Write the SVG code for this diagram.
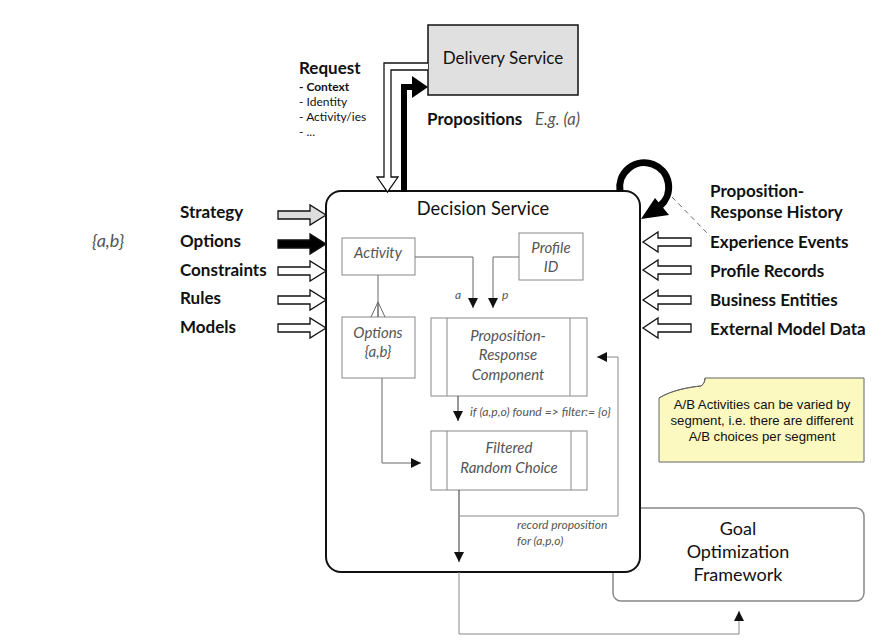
<svg xmlns="http://www.w3.org/2000/svg" width="883" height="641" viewBox="0 0 883 641">
<style>
.lbl{font-family:Lato,"Liberation Sans",sans-serif;font-weight:bold;font-size:17px;fill:#111}
.it{font-family:Lato,"Liberation Sans",sans-serif;font-style:italic;fill:#555}
.ib{fill:#fff;stroke:#888;stroke-width:1}
.cn{fill:none;stroke:#888;stroke-width:1}
.blk{stroke:#111;stroke-width:1.3}
.reg{font-family:Lato,"Liberation Sans",sans-serif;fill:#111}
.nt{font-family:"Liberation Sans",Arial,sans-serif;font-size:13.2px;fill:#111}
</style>
<defs>
<marker id="ah" markerWidth="10" markerHeight="10" refX="10" refY="5" orient="auto" markerUnits="userSpaceOnUse"><path d="M0,0 L10,5 L0,10 Z" fill="#111"/></marker>
</defs>

<g id="goal">
<rect x="613" y="508" width="251" height="93" rx="8" fill="#fff" stroke="#888" stroke-width="1.5"/>
<text class="reg" font-size="18" text-anchor="middle" x="738" y="535">Goal</text>
<text class="reg" font-size="18" text-anchor="middle" x="738" y="558">Optimization</text>
<text class="reg" font-size="18" text-anchor="middle" x="738" y="581">Framework</text>
</g>

<g id="decision-service">
<rect x="326" y="191" width="314" height="381" rx="15" fill="#fff" stroke="#111" stroke-width="2"/>
<text class="reg" font-size="18.3" text-anchor="middle" x="483" y="215">Decision Service</text>
</g>

<g id="delivery-service">
<rect x="428" y="25" width="150" height="70" fill="#e0e0e0" stroke="#111" stroke-width="1.5"/>
<text class="reg" font-size="17" text-anchor="middle" x="503" y="64">Delivery Service</text>
</g>

<g id="request-label">
<text class="lbl" x="299" y="74">Request</text>
<text class="reg" font-size="12" font-weight="bold" x="299" y="91">- Context</text>
<text class="reg" font-size="12" x="299" y="106">- Identity</text>
<text class="reg" font-size="12" x="299" y="121">- Activity/ies</text>
<text class="reg" font-size="12" x="299" y="136">- ...</text>
</g>
<g id="propositions-label">
<text class="lbl" font-size="18" x="427" y="125">Propositions</text>
<text class="it" font-size="16.5" x="535" y="125">E.g. (a)</text>
</g>

<g id="activity">
<rect class="ib" x="342" y="238" width="73" height="37"/>
<text class="it" font-size="15" text-anchor="middle" x="378" y="258">Activity</text>
</g>
<g id="profile-id">
<rect class="ib" x="519" y="233" width="64" height="47"/>
<text class="it" font-size="15" text-anchor="middle" x="551" y="253">Profile</text>
<text class="it" font-size="15" text-anchor="middle" x="551" y="272">ID</text>
</g>
<g id="options">
<rect class="ib" x="342" y="317" width="73" height="61"/>
<text class="it" font-size="15" text-anchor="middle" x="378" y="338">Options</text>
<text class="it" font-size="15" text-anchor="middle" x="378" y="357">{a,b}</text>
</g>
<g id="prop-resp">
<rect class="ib" x="431" y="318" width="156" height="78"/>
<line class="cn" x1="447" y1="318" x2="447" y2="396"/>
<line class="cn" x1="570" y1="318" x2="570" y2="396"/>
<text class="it" font-size="15" text-anchor="middle" x="508" y="341">Proposition-</text>
<text class="it" font-size="15" text-anchor="middle" x="508" y="360">Response</text>
<text class="it" font-size="15" text-anchor="middle" x="508" y="380">Component</text>
</g>
<g id="filtered">
<rect class="ib" x="431" y="431" width="156" height="59"/>
<line class="cn" x1="447" y1="431" x2="447" y2="490"/>
<line class="cn" x1="571" y1="431" x2="571" y2="490"/>
<text class="it" font-size="15" text-anchor="middle" x="509" y="453">Filtered</text>
<text class="it" font-size="15" text-anchor="middle" x="509" y="473">Random Choice</text>
</g>

<g id="note">
<path d="M659,462 V398 C672,390 690,387 701,386 C704,384 705,381 705,378 H864 V462 Z" fill="#fbf8c0" stroke="#666" stroke-width="1"/>
<path d="M659,398 C672,390 690,387 701,386 C704,384 705,381 705,378" fill="none" stroke="#666" stroke-width="1"/>
<text class="nt" text-anchor="middle" x="762" y="409">A/B Activities can be varied by</text>
<text class="nt" text-anchor="middle" x="762" y="425">segment, i.e. there are different</text>
<text class="nt" text-anchor="middle" x="762" y="441">A/B choices per segment</text>
</g>

<g id="left-labels">
<text class="it" font-size="18" x="92" y="247">{a,b}</text>
<text class="lbl" x="180" y="218">Strategy</text>
<text class="lbl" x="180" y="247">Options</text>
<text class="lbl" x="180" y="276">Constraints</text>
<text class="lbl" x="180" y="304">Rules</text>
<text class="lbl" x="180" y="333">Models</text>
</g>
<g id="right-labels">
<text class="lbl" x="710" y="197">Proposition-</text>
<text class="lbl" x="710" y="218">Response History</text>
<text class="lbl" x="710" y="248">Experience Events</text>
<text class="lbl" x="710" y="277">Profile Records</text>
<text class="lbl" x="710" y="306">Business Entities</text>
<text class="lbl" x="710" y="335">External Model Data</text>
</g>

<g id="connectors">
<!-- request hollow arrow -->
<path d="M428,63 H384 V177 H377 L387.5,192 L398,177 H391 V70 H428" fill="#fff" class="blk"/>
<!-- propositions black arrow -->
<path d="M404,192 V87 H414" fill="none" stroke="#000" stroke-width="6"/>
<path d="M412,76 L428,87 L412,98 Z" fill="#000"/>
<!-- left block arrows -->
<path d="M278,211 H310 V205 L326,215 L310,225 V219 H278 Z" fill="#ddd" class="blk"/>
<path d="M278,240 H310 V234 L326,244 L310,254 V248 H278 Z" fill="#000" class="blk"/>
<path d="M278,267 H310 V261 L326,271 L310,281 V275 H278 Z" fill="#fff" class="blk"/>
<path d="M278,296 H310 V290 L326,300 L310,310 V304 H278 Z" fill="#fff" class="blk"/>
<path d="M278,324 H310 V318 L326,328 L310,338 V332 H278 Z" fill="#fff" class="blk"/>
<!-- right block arrows -->
<path d="M691,238 H658 V232 L643,242 L658,252 V246 H691 Z" fill="#fff" class="blk"/>
<path d="M691,266 H658 V260 L643,270 L658,280 V274 H691 Z" fill="#fff" class="blk"/>
<path d="M691,296 H658 V290 L643,300 L658,310 V304 H691 Z" fill="#fff" class="blk"/>
<path d="M691,324 H658 V318 L643,328 L658,338 V332 H691 Z" fill="#fff" class="blk"/>
<!-- history loop -->
<path d="M620,191 A24.5,24.5 0 1 1 660,206" fill="none" stroke="#000" stroke-width="7"/>
<path d="M641,219 L655,198 L669,215 Z" fill="#000"/>
<line x1="672" y1="197" x2="710" y2="236" stroke="#666" stroke-width="1" stroke-dasharray="5,4"/>
<!-- internal -->
<path class="cn" d="M415,257 H473 V308" marker-end="url(#ah)" style="stroke:#666"/>
<text class="it" font-size="12" x="455" y="299">a</text>
<path class="cn" d="M519,257 H493 V308" marker-end="url(#ah)" style="stroke:#666"/>
<text class="it" font-size="12" x="502" y="299">p</text>
<line class="cn" x1="378" y1="275" x2="378" y2="317" style="stroke:#666"/>
<path class="cn" d="M371,317 L378,302 L385,317 M378,302 V317" style="stroke:#666"/>
<path class="cn" d="M382,378 V463 H421" marker-end="url(#ah)" style="stroke:#666"/>
<path class="cn" d="M458,396 V421" marker-end="url(#ah)" style="stroke:#333"/>
<text class="it" font-size="12.2" x="470" y="416">if (a,p,o) found =&gt; filter:= {o}</text>
<path class="cn" d="M459,490 V562" marker-end="url(#ah)" style="stroke:#333"/>
<path class="cn" d="M459,516 H618 V357 H597" marker-end="url(#ah)" style="stroke:#888"/>
<text class="it" font-size="12" x="517" y="529">record proposition</text>
<text class="it" font-size="12" x="517" y="545">for (a,p,o)</text>
<path class="cn" d="M459,572 V634 H739 V611" marker-end="url(#ah)" style="stroke:#888"/>
</g>
</svg>
